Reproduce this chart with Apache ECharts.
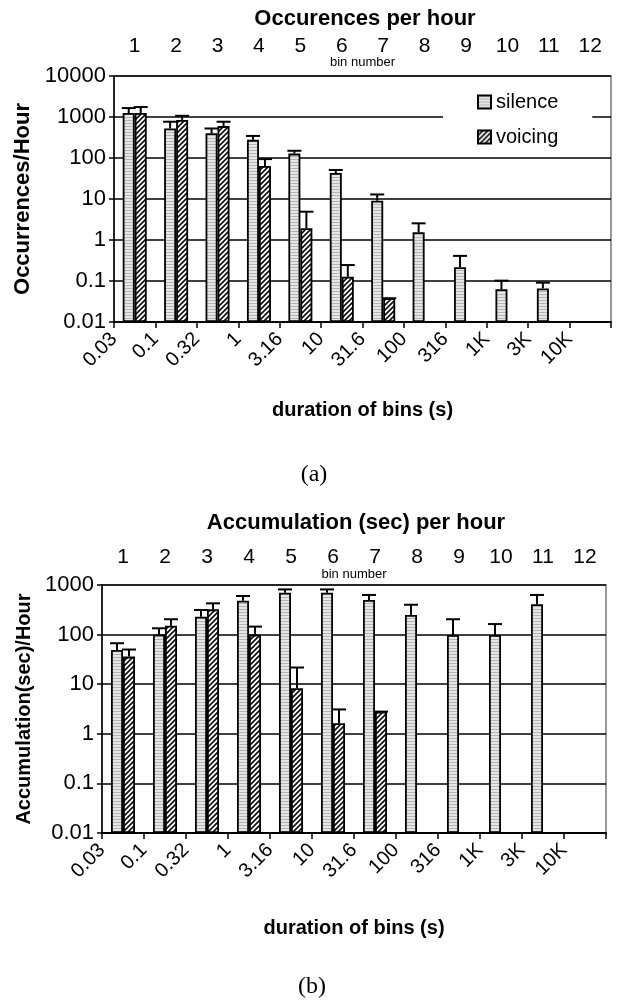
<!DOCTYPE html>
<html>
<head>
<meta charset="utf-8">
<script src="https://cdn.jsdelivr.net/npm/echarts@6/dist/echarts.min.js"></script>
<style>
  html, body { margin: 0; padding: 0; background: #fff; }
  #box { width: 620px; height: 1008px; }
</style>
</head>
<body>
<div id="box"></div>
<script>
; (function () {
    // bin numbers along the top, durations along the bottom
    const binLabels = ['1', '2', '3', '4', '5', '6', '7', '8', '9', '10', '11', '12'];
    const durLabels = ['0.03', '0.1', '0.32', '1', '3.16', '10', '31.6', '100', '316', '1K', '3K', '10K'];
    const yLabelsTop = ['0.01', '0.1', '1', '10', '100', '1000', '10000'];
    const yLabelsBottom = ['0.01', '0.1', '1', '10', '100', '1000'];

    // (a) occurrences per hour
    const occSilence = [1250, 525, 400, 277, 128, 43, 9.1, 1.55, 0.216, 0.063, 0.066, null];
    const occSilenceErr = [1650, 767, 525, 345, 150, 51, 12.9, 2.55, 0.41, 0.102, 0.091, null];
    const occVoicing = [1250, 850, 600, 64, 1.93, 0.127, 0.038, null, null, null, null, null];
    const occVoicingErr = [1750, 1070, 767, 94, 4.9, 0.245, 0.038, null, null, null, null, null];

    // (b) accumulation (sec) per hour
    const accSilence = [49, 101, 229, 480, 700, 700, 500, 248, 98, 98, 410, null];
    const accSilenceErr = [67, 134, 313, 600, 815, 815, 630, 400, 204, 163, 630, null];
    const accVoicing = [36, 151, 323, 100, 8.3, 1.63, 2.8, null, null, null, null, null];
    const accVoicingErr = [50, 204, 427, 145, 21.7, 3.1, 2.8, null, null, null, null, null];

    const FONT = "'Liberation Sans', Arial, sans-serif";
    const BAR_W = 12;

    // log10 shifted so that 0.01 sits on the axis base
    function toLog(v) {
        return v == null ? '-' : Math.log10(v) + 2;
    }

    function makeHatch() {
        const c = document.createElement('canvas');
        c.width = 5; c.height = 5;
        const ctx = c.getContext('2d');
        ctx.fillStyle = '#fff';
        ctx.fillRect(0, 0, 5, 5);
        ctx.strokeStyle = '#111';
        ctx.lineWidth = 1.7;
        ctx.beginPath();
        ctx.moveTo(-1, 6); ctx.lineTo(6, -1);
        ctx.moveTo(-1, 1); ctx.lineTo(1, -1);
        ctx.moveTo(4, 6); ctx.lineTo(6, 4);
        ctx.stroke();
        return c;
    }

    function makeStripes() {
        const c = document.createElement('canvas');
        c.width = 4; c.height = 3;
        const ctx = c.getContext('2d');
        ctx.fillStyle = '#e6e6e6';
        ctx.fillRect(0, 0, 4, 3);
        ctx.fillStyle = '#b4b4b4';
        ctx.fillRect(0, 0, 4, 1);
        return c;
    }

    const silenceFill = { image: makeStripes(), repeat: 'repeat' };
    const voicingFill = { image: makeHatch(), repeat: 'repeat' };

    function errData(vals, errs) {
        const out = [];
        vals.forEach((v, i) => {
            if (v != null && errs[i] != null) {
                out.push([i, toLog(v), toLog(errs[i])]);
            }
        });
        return out;
    }

    function errRender(offset) {
        return function (params, api) {
            const base = api.coord([api.value(0), api.value(1)]);
            const top = api.coord([api.value(0), api.value(2)]);
            const x = base[0] + offset;
            const half = BAR_W / 2 + 1;
            const st = { stroke: '#000', lineWidth: 2 };
            return {
                type: 'group',
                children: [
                    { type: 'line', shape: { x1: x, y1: base[1], x2: x, y2: top[1] }, style: st },
                    { type: 'line', shape: { x1: x - half, y1: top[1], x2: x + half, y2: top[1] }, style: st }
                ]
            };
        };
    }

    function barSeries(name, fill, vals, xi, yi) {
        return {
            name: name,
            type: 'bar',
            xAxisIndex: xi,
            yAxisIndex: yi,
            barWidth: BAR_W,
            barGap: '0%',
            itemStyle: { color: fill, borderColor: '#000', borderWidth: 1.8 },
            data: vals.map(toLog),
            z: 3
        };
    }

    function errSeries(vals, errs, offset, xi, yi) {
        return {
            type: 'custom',
            xAxisIndex: xi,
            yAxisIndex: yi,
            renderItem: errRender(offset),
            encode: { x: 0, y: [1, 2] },
            data: errData(vals, errs),
            silent: true,
            z: 4
        };
    }

    function binAxis(gridIndex, margin, nameGap) {
        return {
            type: 'category',
            gridIndex: gridIndex,
            position: 'top',
            data: binLabels,
            name: 'bin number',
            nameLocation: 'middle',
            nameGap: nameGap,
            nameMoveOverlap: false,
            nameTextStyle: { fontFamily: FONT, fontSize: 13, color: '#000' },
            axisLine: { lineStyle: { color: '#000', width: 1.5 } },
            axisTick: { inside: true, length: 6, lineStyle: { color: '#000', width: 1.5 } },
            axisLabel: { fontFamily: FONT, fontSize: 21, color: '#000', margin: margin },
            splitLine: { show: false }
        };
    }

    function durAxis(gridIndex, nameGap) {
        return {
            type: 'value',
            gridIndex: gridIndex,
            position: 'bottom',
            min: 0,
            max: 12,
            interval: 1,
            name: 'duration of bins (s)',
            nameLocation: 'middle',
            nameGap: nameGap,
            nameTextStyle: { fontFamily: FONT, fontSize: 20, fontWeight: 'bold', color: '#000' },
            axisLine: { lineStyle: { color: '#000', width: 1.5 } },
            axisTick: { length: 6, lineStyle: { color: '#000', width: 1.5 } },
            axisLabel: {
                fontFamily: FONT, fontSize: 20, color: '#000', rotate: 45, margin: 14,
                formatter: v => durLabels[v] || ''
            },
            splitLine: { show: false }
        };
    }

    function logAxis(gridIndex, labels, name, nameGap, nameSize) {
        return {
            type: 'value',
            gridIndex: gridIndex,
            min: 0,
            max: labels.length - 1,
            interval: 1,
            name: name,
            nameLocation: 'middle',
            nameGap: nameGap,
            nameRotate: 90,
            nameTextStyle: { fontFamily: FONT, fontSize: nameSize, fontWeight: 'bold', color: '#000' },
            axisLine: { show: true, lineStyle: { color: '#000', width: 1.5 } },
            axisTick: { show: true, length: 5, lineStyle: { color: '#000', width: 1.5 } },
            axisLabel: {
                fontFamily: FONT, fontSize: 22, color: '#000', margin: 8,
                formatter: v => labels[v]
            },
            splitLine: { lineStyle: { color: '#000', width: 1.5 } }
        };
    }

    function text(str, x, y, font) {
        return {
            type: 'text',
            x: x,
            y: y,
            style: { text: str, font: font, fill: '#000', align: 'center', verticalAlign: 'middle' }
        };
    }

    const chart = echarts.init(document.getElementById('box'));
    const option = {
        animation: false,
        backgroundColor: '#fff',
        grid: [
            { left: 114, right: 9, top: 76, height: 246, show: true, borderColor: '#999', borderWidth: 2, backgroundColor: 'transparent' },
            { left: 102, right: 14, top: 585, height: 248, show: true, borderColor: '#999', borderWidth: 2, backgroundColor: 'transparent' }
        ],
        legend: {
            data: ['silence', 'voicing'],
            orient: 'vertical',
            left: 443,
            top: 84,
            padding: [8, 34, 4, 34],
            itemGap: 15,
            itemWidth: 13,
            itemHeight: 13,
            icon: 'rect',
            backgroundColor: '#fff',
            textStyle: { fontFamily: FONT, fontSize: 20, color: '#000', lineHeight: 20 },
            selectedMode: false
        },
        xAxis: [
            binAxis(0, 19, 7),
            durAxis(0, 78),
            binAxis(1, 17, 4),
            durAxis(1, 85)
        ],
        yAxis: [
            logAxis(0, yLabelsTop, 'Occurrences/Hour', 80, 22),
            logAxis(1, yLabelsBottom, 'Accumulation(sec)/Hour', 68, 20)
        ],
        graphic: [
            text('Occurences per hour', 365, 19, "bold 22px " + FONT),
            text('(a)', 314, 475, "24px 'Liberation Serif', 'Times New Roman', serif"),
            text('Accumulation (sec) per hour', 356, 523, "bold 22px " + FONT),
            text('(b)', 312, 987, "24px 'Liberation Serif', 'Times New Roman', serif")
        ],
        series: [
            barSeries('silence', silenceFill, occSilence, 0, 0),
            barSeries('voicing', voicingFill, occVoicing, 0, 0),
            errSeries(occSilence, occSilenceErr, -BAR_W / 2, 0, 0),
            errSeries(occVoicing, occVoicingErr, BAR_W / 2, 0, 0),
            barSeries('silence', silenceFill, accSilence, 2, 1),
            barSeries('voicing', voicingFill, accVoicing, 2, 1),
            errSeries(accSilence, accSilenceErr, -BAR_W / 2, 2, 1),
            errSeries(accVoicing, accVoicingErr, BAR_W / 2, 2, 1)
        ]
    };

    chart.setOption(option);
})()
</script>
</body>
</html>
